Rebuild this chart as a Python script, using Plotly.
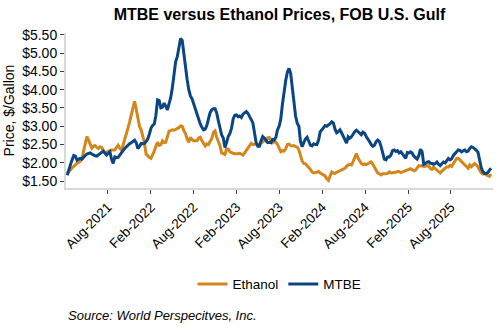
import pandas as pd
import plotly.graph_objects as go

start_date = "2021-02-09"

ethanol = [
    1.71, 1.77, 1.82, 1.86, 1.90, 1.95, 1.99, 2.01, 2.04, 2.12,
    2.30, 2.55, 2.72, 2.62, 2.50, 2.40, 2.45, 2.47, 2.42, 2.39,
    2.44, 2.42, 2.33, 2.27, 2.29, 2.30, 2.33, 2.35, 2.34, 2.35,
    2.42, 2.48, 2.40, 2.35, 2.48, 2.62, 2.80, 2.95, 3.12, 3.30,
    3.55, 3.68, 3.47, 3.20, 3.00, 2.90, 2.72, 2.55,
    2.24, 2.18, 2.15, 2.12, 2.20, 2.32, 2.45, 2.56, 2.48, 2.50,
    2.60, 2.55, 2.56, 2.75, 2.87, 2.88, 2.90, 2.89, 2.91, 2.93,
    2.96, 3.01, 3.00, 2.88, 2.80, 2.65, 2.56, 2.70, 2.63, 2.60,
    2.61, 2.60, 2.68, 2.70, 2.60, 2.52, 2.46, 2.52, 2.50, 2.59,
    2.66, 2.83, 2.87, 2.70, 2.60, 2.47, 2.27, 2.25, 2.23, 2.38,
    2.38,
    2.30, 2.27, 2.26, 2.25, 2.24, 2.25, 2.26, 2.24, 2.21, 2.27,
    2.34, 2.42, 2.49, 2.53, 2.50, 2.50, 2.53, 2.51, 2.49, 2.54,
    2.58, 2.61, 2.59, 2.68, 2.69, 2.62, 2.55, 2.58, 2.56, 2.50,
    2.38, 2.30, 2.33, 2.32, 2.38, 2.50, 2.51, 2.47, 2.46, 2.47,
    2.44, 2.43, 2.35, 2.20, 2.05, 1.98, 1.97, 1.92, 1.88, 1.82,
    1.75, 1.72,
    1.73, 1.75, 1.76, 1.72, 1.70, 1.68, 1.64, 1.56, 1.52, 1.64,
    1.75, 1.72, 1.71, 1.74, 1.76, 1.78, 1.80, 1.83, 1.85, 1.90,
    1.94, 1.95, 1.94, 2.03, 2.17, 2.25, 2.13, 2.04, 1.98, 1.95,
    1.97, 1.95, 1.97, 2.00, 2.02, 1.96, 1.87, 1.78, 1.72, 1.70,
    1.67, 1.70, 1.69, 1.70, 1.71, 1.75, 1.72, 1.72, 1.73, 1.74,
    1.76, 1.76,
    1.73, 1.75, 1.77, 1.79, 1.81, 1.84, 1.84, 1.81, 1.78, 1.80,
    1.88, 1.92, 1.91, 1.92, 1.90, 1.90, 1.90, 1.92, 1.84, 1.82,
    1.88, 1.84, 1.80, 1.75, 1.72, 1.77, 1.81, 1.85, 1.89, 1.88,
    1.93, 1.90, 1.99, 2.05, 2.12, 2.12, 2.08, 2.03, 1.98, 1.94,
    1.89, 1.85, 1.94, 1.89, 1.94, 1.98, 1.94, 1.89, 1.80, 1.72,
    1.69, 1.71, 1.67, 1.66, 1.63, 1.69,
]

mtbe = [
    1.66, 1.78, 1.95, 2.08, 2.20, 2.18, 2.07, 2.10, 2.12, 2.10,
    2.16, 2.20, 2.24, 2.25, 2.27, 2.24, 2.21, 2.19, 2.18, 2.22,
    2.25, 2.28, 2.32, 2.26, 2.21, 2.26, 2.30, 2.10, 1.98, 2.16,
    2.14, 2.15, 2.20, 2.27, 2.33, 2.39, 2.44, 2.48, 2.52, 2.55,
    2.58, 2.62, 2.55, 2.39, 2.45, 2.53, 2.52, 2.53,
    2.58, 2.65, 2.78, 2.95, 3.02, 3.06, 3.30, 3.72, 3.70, 3.50,
    3.52, 3.63, 3.55, 3.45, 3.62, 3.78, 4.05, 4.45, 4.76, 4.90,
    5.20, 5.40, 5.35, 4.95, 4.60, 4.28, 4.00, 3.83, 3.75, 3.60,
    3.52, 3.33, 3.22, 3.06, 2.97, 2.90, 2.92, 3.02, 3.20, 3.37,
    3.45, 3.48, 3.48, 3.36, 3.15, 2.97, 2.76, 2.68, 2.42, 2.55,
    2.72,
    2.80, 2.94, 3.20, 3.30, 3.31, 3.26, 3.28, 3.24, 3.33, 3.37,
    3.40, 3.35, 3.28, 3.18, 3.09, 2.85, 2.55, 2.45, 2.45, 2.60,
    2.72, 2.68, 2.60, 2.55, 2.56, 2.55, 2.64, 2.62, 2.70, 2.90,
    3.00, 3.20, 3.60, 3.95, 4.25, 4.48, 4.58, 4.45, 4.05, 3.60,
    3.28, 3.08, 3.00, 2.58, 2.44, 2.55, 2.65, 2.70, 2.60, 2.48,
    2.46, 2.52,
    2.50, 2.50, 2.62, 2.85, 2.90, 2.97, 3.02, 3.00, 3.03, 3.07,
    3.12, 3.09, 2.92, 2.82, 2.85, 2.90, 2.82, 2.72, 2.63, 2.54,
    2.71, 2.67, 2.71, 2.80, 2.85, 2.89, 2.85, 2.81, 2.77, 2.84,
    2.81, 2.72, 2.63, 2.58, 2.50, 2.45, 2.48, 2.58, 2.62, 2.58,
    2.45, 2.30, 2.10, 2.08, 2.16, 2.16, 2.21, 2.33, 2.35, 2.31,
    2.33, 2.27,
    2.30, 2.25, 2.17, 2.12, 2.28, 2.27, 2.30, 2.26, 2.18, 2.13,
    2.10, 2.20, 2.37, 2.30, 1.96, 1.98, 2.02, 2.03, 1.99, 1.98,
    1.96, 1.98, 2.02, 1.96, 1.92, 1.97, 2.02, 2.00, 2.07, 2.12,
    2.08, 2.11, 2.20, 2.26, 2.30, 2.35, 2.34, 2.30, 2.33, 2.35,
    2.30, 2.32, 2.39, 2.44, 2.42, 2.39, 2.34, 2.29, 2.08, 1.86,
    1.76, 1.71, 1.71, 1.73, 1.80, 1.85,
]

dates = pd.date_range(start_date, periods=len(mtbe), freq="7D")

tick_dates = ["2021-08-01", "2022-02-01", "2022-08-01", "2023-02-01", "2023-08-01",
              "2024-02-01", "2024-08-01", "2025-02-01", "2025-08-01"]
tick_labels = ["Aug-2021", "Feb-2022", "Aug-2022", "Feb-2023", "Aug-2023",
               "Feb-2024", "Aug-2024", "Feb-2025", "Aug-2025"]

series_names = ["Ethanol", "MTBE"]
series_colors = ["#D4861C", "#0B4683"]

FONT = "Liberation Sans, Arial, sans-serif"

fig = go.Figure()
for name, vals, col in zip(series_names, [ethanol, mtbe], series_colors):
    fig.add_trace(go.Scatter(x=dates, y=vals, mode="lines", name=name,
                             line=dict(color=col, width=3)))

fig.update_layout(
    width=500, height=330,
    margin=dict(l=66, r=7, t=33, b=142),
    paper_bgcolor="white", plot_bgcolor="white",
    font=dict(family=FONT, size=13, color="#000"),
    title=dict(text="<b>MTBE versus Ethanol Prices, FOB U.S. Gulf</b>",
               x=0.559, xanchor="center", y=0.955, yanchor="middle",
               font=dict(size=16, color="#000")),
    showlegend=True,
    legend=dict(orientation="h", x=0.5, xanchor="center", y=-0.62, yanchor="middle",
                font=dict(size=13.5), itemwidth=30, tracegroupgap=0),
)
fig.update_xaxes(
    range=["2021-02-04", "2026-01-28"],
    tickvals=tick_dates, ticktext=tick_labels, tickangle=-45,
    showgrid=False, zeroline=False,
    showline=True, linecolor="#D9D9D9", linewidth=2,
    ticks="outside", ticklen=4, tickcolor="#404040", tickwidth=1,
    tickfont=dict(size=13.5),
)
fig.update_yaxes(
    range=[1.31, 5.55], tick0=1.5, dtick=0.5, tickprefix="$", tickformat=".2f",
    showgrid=False, zeroline=False,
    showline=True, linecolor="#D9D9D9", linewidth=2,
    ticks="outside", ticklen=4, tickcolor="#404040", tickwidth=1,
    tickfont=dict(size=14),
    title=dict(text="Price, $/Gallon", font=dict(size=14), standoff=4),
)
fig.add_annotation(text="<i>Source: World Perspecitves, Inc.</i>",
                   xref="paper", yref="paper", x=0.0, y=-0.82,
                   xanchor="left", yanchor="middle", showarrow=False,
                   font=dict(size=13, color="#000"))

fig.write_html("out.html")
